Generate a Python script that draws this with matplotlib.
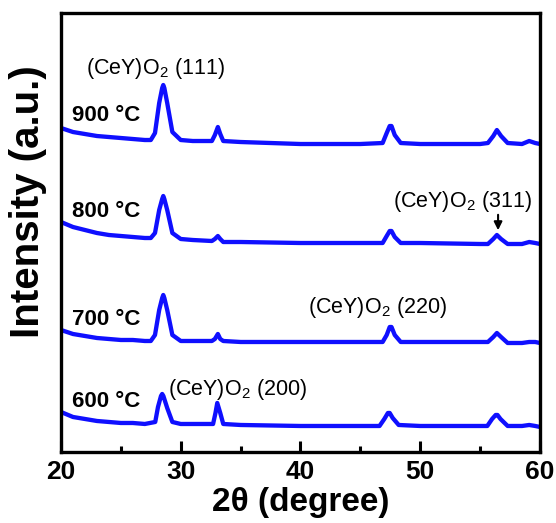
import matplotlib.pyplot as plt

plt.rcParams['font.family'] = ['Liberation Sans', 'DejaVu Sans']
plt.rcParams['mathtext.fontset'] = 'custom'
plt.rcParams['mathtext.rm'] = 'Liberation Sans'

# XRD traces (2theta in degree, intensity in a.u.)
x_hi = [20, 21, 22, 23, 24, 25, 26, 27, 27.5, 27.85, 28.2, 28.45, 28.54, 28.63, 28.87, 29.3, 30,
        31, 32.6, 32.85, 33.1, 33.3, 33.55, 35, 40, 45, 46.86, 47.2, 47.45, 47.6, 47.87, 48.37,
        50, 55, 55.65, 56.1, 56.4, 56.75, 57.3, 58.5, 59.1, 59.6, 60]
y_900 = [324, 320, 318, 316, 315, 314, 313, 312, 312, 319, 349, 364, 367, 364, 349, 320, 312,
         311, 311, 317, 325, 318, 311, 310, 308, 308, 309, 319, 326, 326, 317, 309,
         308, 308, 309, 316, 322, 316, 309, 308, 311, 309, 308]
y_800 = [230, 225, 222, 219, 217, 216, 215, 214, 214, 219, 242, 253, 256, 253, 242, 219, 213,
         212, 211, 213, 216, 213, 210, 210, 209, 209, 209, 216, 221, 221, 215, 209,
         209, 208, 208, 213, 217, 213, 208, 208, 210, 209, 208]
y_700 = [122, 118, 116, 114, 113, 112, 112, 111, 111, 117, 142, 154, 157, 154, 142, 117, 111,
         111, 111, 113, 118, 113, 111, 110, 110, 110, 110, 117, 125, 125, 117, 110,
         110, 110, 110, 115, 119, 115, 109, 109, 110, 110, 109]

x_600 = [20, 21, 22, 23, 24, 25, 26, 27, 27.87, 28.1, 28.35, 28.45, 28.55, 28.87, 29.3, 30,
         32.7, 32.9, 33.05, 33.3, 33.55, 35, 40, 46.6, 47.0, 47.3, 47.45, 47.7, 48.2, 50,
         55.6, 56.0, 56.3, 56.45, 56.7, 57.3, 58.5, 59.1, 59.6, 60]
y_600 = [40, 35, 33, 31, 30, 29, 29, 28, 30, 45, 56, 58, 56, 44, 30, 28,
         28, 39, 49, 39, 28, 27, 26, 26, 33, 39, 39, 34, 27, 26,
         26, 33, 37, 37, 33, 26, 26, 27, 26, 25]

temp_labels = ['900 °C', '800 °C', '700 °C', '600 °C']
temp_label_y = [331, 235, 127, 45]

plane_labels = ['(111)', '(311)', '(220)', '(200)']
plane_x = [22.1, 47.7, 40.6, 28.95]
plane_y = [378, 245, 139, 57]

fig = plt.figure(figsize=(5.56, 5.23), dpi=100)
ax = fig.add_axes([0.1097, 0.1358, 0.8615, 0.8393])

for xs, ys in [(x_hi, y_900), (x_hi, y_800), (x_hi, y_700), (x_600, y_600)]:
    ax.plot(xs, ys, color='#0f0fff', lw=3.1, solid_joinstyle='round')

for lab, yy in zip(temp_labels, temp_label_y):
    ax.text(20.92, yy, lab, fontsize=16, fontweight='bold', ha='left', va='baseline')

for lab, xx, yy in zip(plane_labels, plane_x, plane_y):
    ax.text(xx, yy, r'(CeY)O$_\mathregular{2}$ ' + lab, fontsize=15.5, ha='left', va='baseline')

ax.annotate('', xy=(56.5, 219), xytext=(56.5, 240),
            arrowprops=dict(arrowstyle='-|>', color='black', lw=1.5, mutation_scale=12))

ax.set_xlim(20, 60)
ax.set_ylim(0, 439)
ax.set_xticks([20, 30, 40, 50, 60])
ax.set_xticks([25, 35, 45, 55], minor=True)
ax.set_yticks([])
ax.tick_params(axis='x', which='major', direction='in', length=8, width=2.2, pad=6,
               labelsize=19)
ax.tick_params(axis='x', which='minor', direction='in', length=4, width=2.2)
for lbl in ax.get_xticklabels():
    lbl.set_fontweight('bold')
for s in ax.spines.values():
    s.set_linewidth(2.4)

ax.set_xlabel('2θ (degree)', fontsize=24, fontweight='bold', labelpad=2)
ax.set_ylabel('Intensity (a.u.)', fontsize=29, fontweight='bold')
ax.yaxis.set_label_coords(-0.03, 0.57)

fig.savefig('out.png', dpi=100)
